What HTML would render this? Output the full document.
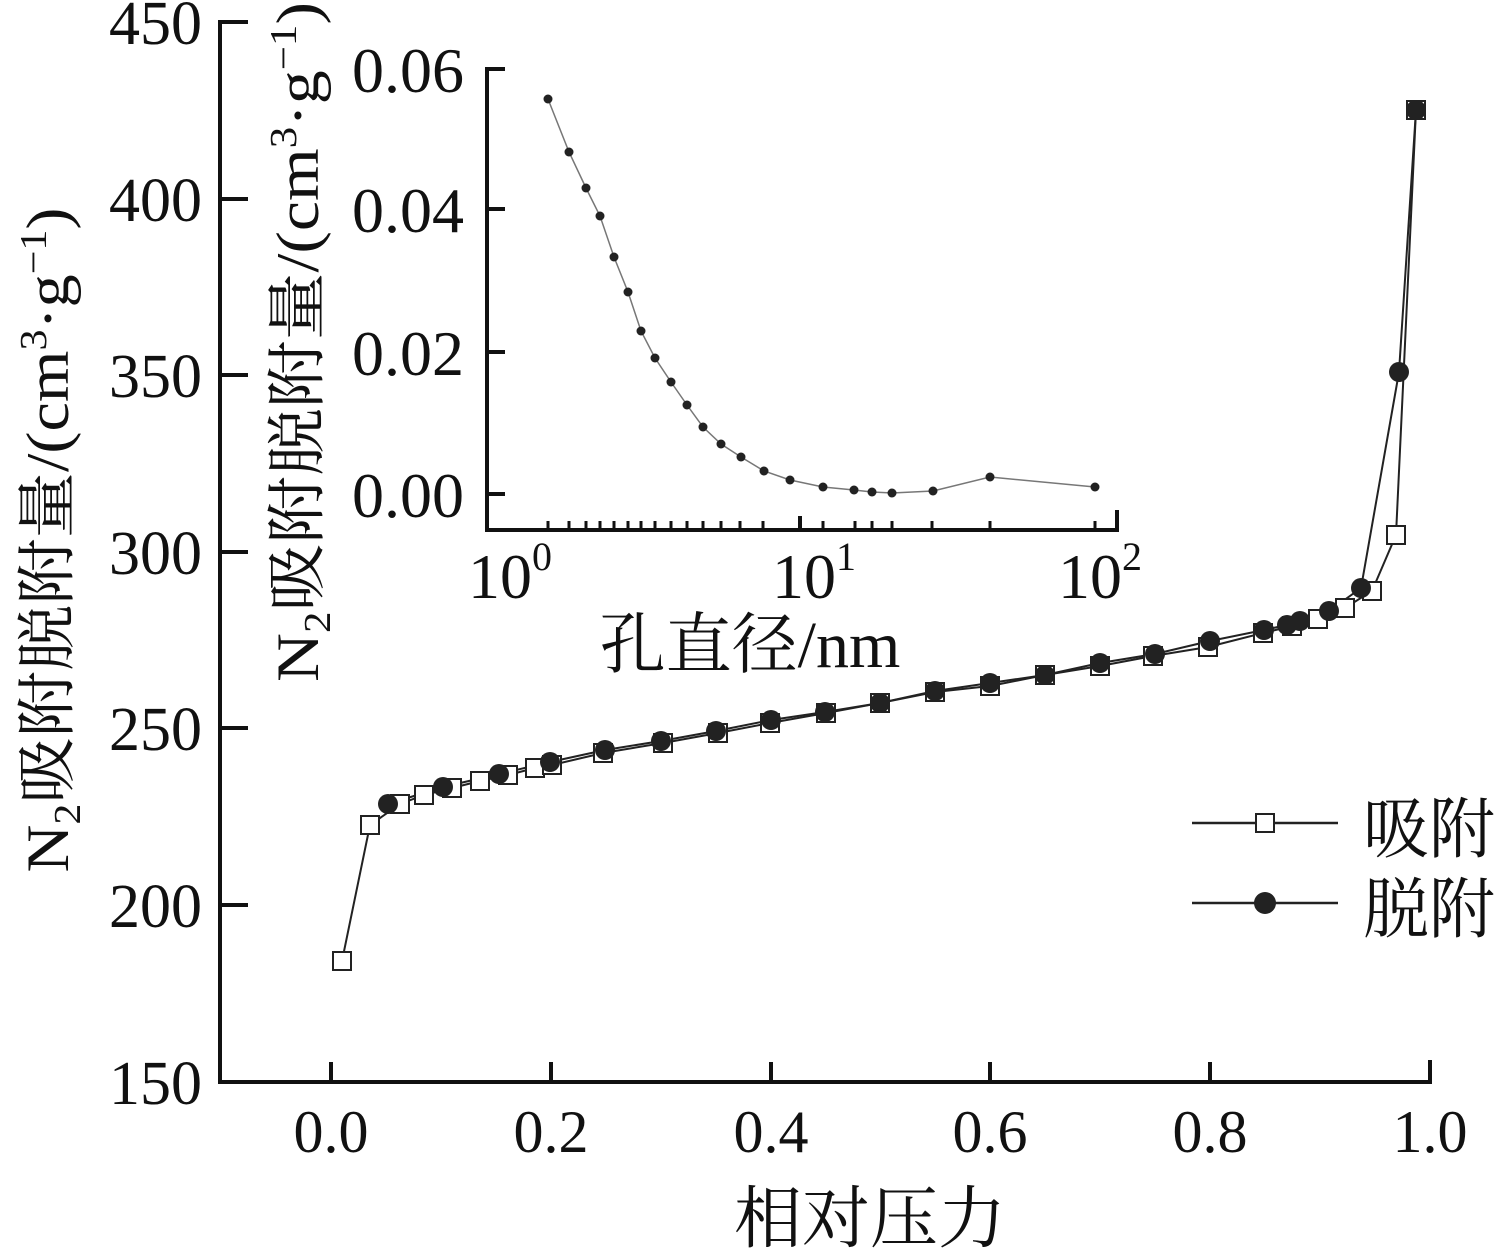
<!DOCTYPE html>
<html><head><meta charset="utf-8"><style>
html,body{margin:0;padding:0;background:#fff;}
svg{display:block;}
text{font-family:"Liberation Serif","Noto Serif CJK SC","Noto Sans CJK SC",serif;fill:#111;}
</style></head><body>
<svg width="1500" height="1250" viewBox="0 0 1500 1250" xmlns="http://www.w3.org/2000/svg">
<g stroke="#111" stroke-width="4" fill="none">
<path d="M220 20 V1082 H1432"/>
<path d="M220 22 h28 M220 199 h28 M220 375 h28 M220 552 h28 M220 728 h28 M220 905 h28"/>
<path d="M331 1082 v-20 M551 1082 v-20 M771 1082 v-20 M990 1082 v-20 M1210 1082 v-20 M1430 1082 v-22"/>
</g>
<g font-size="62" text-anchor="end">
<text x="202" y="44">450</text><text x="202" y="221">400</text><text x="202" y="397">350</text>
<text x="202" y="574">300</text><text x="202" y="750">250</text><text x="202" y="927">200</text><text x="202" y="1104">150</text>
</g>
<g font-size="60" text-anchor="middle">
<text x="331" y="1152">0.0</text><text x="551" y="1152">0.2</text><text x="771" y="1152">0.4</text>
<text x="990" y="1152">0.6</text><text x="1210" y="1152">0.8</text><text x="1430" y="1152">1.0</text>
</g>
<text x="870" y="1242" font-size="68" text-anchor="middle">相对压力</text>
<text transform="translate(68,540) rotate(-90)" font-size="60" text-anchor="middle" textLength="665" lengthAdjust="spacingAndGlyphs">N<tspan font-size="38" dy="12">2</tspan><tspan dy="-12">吸附脱附量/(cm</tspan><tspan font-size="38" dy="-22">3</tspan><tspan dy="22">·g</tspan><tspan font-size="38" dy="-22">−1</tspan><tspan dy="22">)</tspan></text>

<polyline fill="none" stroke="#222" stroke-width="2" points="342,961 370,825 400,804 424,795 452,788 480,781 508,775 535,768 552,765 603,753 663,743 718,733 770,723 826,713 880,703 935,692 990,686 1045,675 1100,666 1153,656 1208,647 1263,633 1292,626 1318,619 1345,608 1372,591 1396,535 1416,110"/>
<polyline fill="none" stroke="#222" stroke-width="2" points="388,804 443,787 499,774 550,762 605,750 661,741 716,731 771,720 825,712 880,703 935,691 990,683 1045,675 1100,663 1155,654 1210,641 1264,630 1287,625 1300,621 1329,611 1361,588 1399,372 1416,110"/>
<g fill="#fff" stroke="#222" stroke-width="2">
<rect x="333" y="952" width="18" height="18"/><rect x="361" y="816" width="18" height="18"/><rect x="391" y="795" width="18" height="18"/><rect x="415" y="786" width="18" height="18"/><rect x="443" y="779" width="18" height="18"/><rect x="471" y="772" width="18" height="18"/><rect x="499" y="766" width="18" height="18"/><rect x="526" y="759" width="18" height="18"/><rect x="543" y="756" width="18" height="18"/><rect x="594" y="744" width="18" height="18"/><rect x="654" y="734" width="18" height="18"/><rect x="709" y="724" width="18" height="18"/><rect x="761" y="714" width="18" height="18"/><rect x="817" y="704" width="18" height="18"/><rect x="871" y="694" width="18" height="18"/><rect x="926" y="683" width="18" height="18"/><rect x="981" y="677" width="18" height="18"/><rect x="1036" y="666" width="18" height="18"/><rect x="1091" y="657" width="18" height="18"/><rect x="1144" y="647" width="18" height="18"/><rect x="1199" y="638" width="18" height="18"/><rect x="1254" y="624" width="18" height="18"/><rect x="1283" y="617" width="18" height="18"/><rect x="1309" y="610" width="18" height="18"/><rect x="1336" y="599" width="18" height="18"/><rect x="1363" y="582" width="18" height="18"/><rect x="1387" y="526" width="18" height="18"/><rect x="1407" y="101" width="18" height="18"/>
</g>
<g fill="#222">
<circle cx="388" cy="804" r="10"/><circle cx="443" cy="787" r="10"/><circle cx="499" cy="774" r="10"/><circle cx="550" cy="762" r="10"/><circle cx="605" cy="750" r="10"/><circle cx="661" cy="741" r="10"/><circle cx="716" cy="731" r="10"/><circle cx="771" cy="720" r="10"/><circle cx="825" cy="712" r="10"/><circle cx="880" cy="703" r="10"/><circle cx="935" cy="691" r="10"/><circle cx="990" cy="683" r="10"/><circle cx="1045" cy="675" r="10"/><circle cx="1100" cy="663" r="10"/><circle cx="1155" cy="654" r="10"/><circle cx="1210" cy="641" r="10"/><circle cx="1264" cy="630" r="10"/><circle cx="1287" cy="625" r="10"/><circle cx="1300" cy="621" r="10"/><circle cx="1329" cy="611" r="10"/><circle cx="1361" cy="588" r="10"/><circle cx="1399" cy="372" r="10"/><circle cx="1416" cy="110" r="10"/>
</g>

<g stroke="#222" stroke-width="2.5">
<line x1="1192" y1="823" x2="1338" y2="823"/><line x1="1192" y1="903" x2="1338" y2="903"/>
</g>
<rect x="1256" y="814" width="18" height="18" fill="#fff" stroke="#222" stroke-width="2"/>
<circle cx="1265" cy="903" r="11" fill="#222"/>
<text x="1363" y="852" font-size="66">吸附</text>
<text x="1363" y="932" font-size="66">脱附</text>

<g stroke="#111" stroke-width="4" fill="none">
<path d="M487 67 V530 H1117 V510"/>
<path d="M487 69 h18 M487 209 h18 M487 352 h18 M487 494 h18"/>
<path d="M800 530 v-14"/>
<path d="M548 530 v-9 M569 530 v-9 M586 530 v-9 M600 530 v-9 M614 530 v-9 M628 530 v-9 M641 530 v-9 M655 530 v-9 M671 530 v-9 M687 530 v-9 M703 530 v-9 M721 530 v-9 M740 530 v-9 M763 530 v-9 M823 530 v-9 M855 530 v-9 M872 530 v-9 M892 530 v-9 M932 530 v-9 M990 530 v-9 M1095 530 v-9" stroke-width="3"/>
</g>
<g font-size="64" text-anchor="end">
<text x="464" y="92">0.06</text><text x="464" y="232">0.04</text><text x="464" y="375">0.02</text><text x="464" y="517">0.00</text>
</g>
<g font-size="64">
<text x="468" y="598">10<tspan font-size="40" dy="-28">0</tspan></text>
<text x="772" y="598">10<tspan font-size="40" dy="-28">1</tspan></text>
<text x="1058" y="598">10<tspan font-size="40" dy="-28">2</tspan></text>
</g>
<text x="750" y="667" font-size="66" text-anchor="middle">孔直径/nm</text>
<text transform="translate(318,342) rotate(-90)" font-size="60" text-anchor="middle" textLength="680" lengthAdjust="spacingAndGlyphs">N<tspan font-size="38" dy="12">2</tspan><tspan dy="-12">吸附脱附量/(cm</tspan><tspan font-size="38" dy="-22">3</tspan><tspan dy="22">·g</tspan><tspan font-size="38" dy="-22">−1</tspan><tspan dy="22">)</tspan></text>
<polyline fill="none" stroke="#777" stroke-width="1.5" points="548,99 569,152 586,188 600,216 614,257 628,292 641,331 655,358 671,382 687,405 703,427 721,444 741,457 764,471 790,480 823,487 854,490 872,492 892,493 933,491 990,477 1095,487"/>
<g fill="#222">
<circle cx="548" cy="99" r="4.5"/><circle cx="569" cy="152" r="4.5"/><circle cx="586" cy="188" r="4.5"/><circle cx="600" cy="216" r="4.5"/><circle cx="614" cy="257" r="4.5"/><circle cx="628" cy="292" r="4.5"/><circle cx="641" cy="331" r="4.5"/><circle cx="655" cy="358" r="4.5"/><circle cx="671" cy="382" r="4.5"/><circle cx="687" cy="405" r="4.5"/><circle cx="703" cy="427" r="4.5"/><circle cx="721" cy="444" r="4.5"/><circle cx="741" cy="457" r="4.5"/><circle cx="764" cy="471" r="4.5"/><circle cx="790" cy="480" r="4.5"/><circle cx="823" cy="487" r="4.5"/><circle cx="854" cy="490" r="4.5"/><circle cx="872" cy="492" r="4.5"/><circle cx="892" cy="493" r="4.5"/><circle cx="933" cy="491" r="4.5"/><circle cx="990" cy="477" r="4.5"/><circle cx="1095" cy="487" r="4.5"/>
</g>
</svg>
</body></html>
